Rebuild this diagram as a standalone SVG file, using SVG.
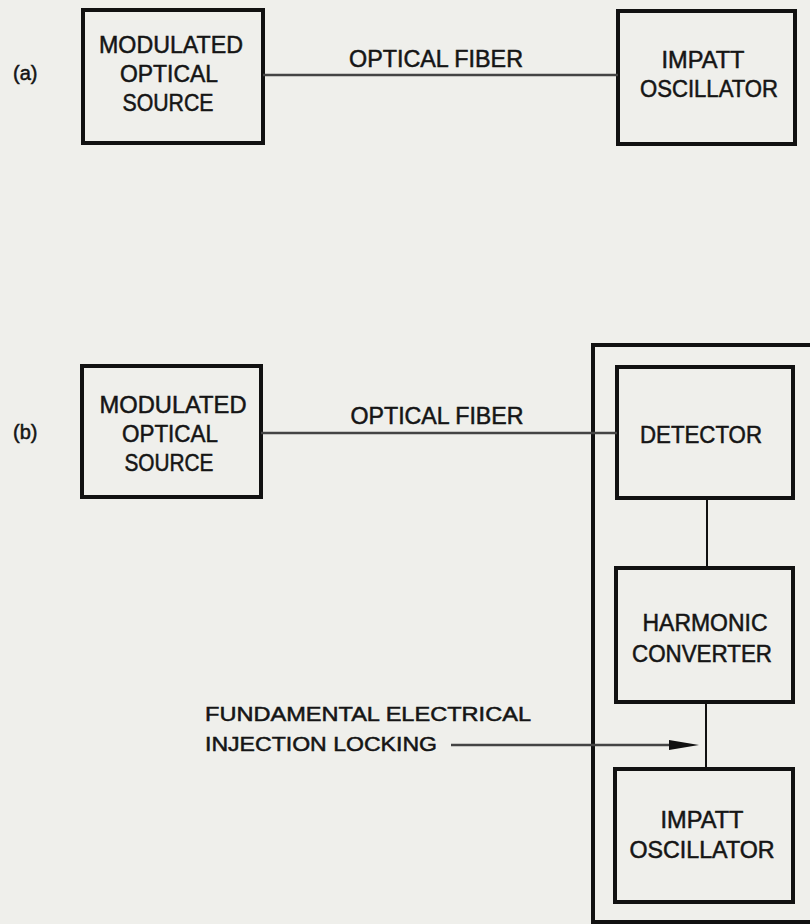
<svg xmlns="http://www.w3.org/2000/svg" width="810" height="924" viewBox="0 0 810 924">
<defs>
<style>
.bg{fill:#efefeb}
.box{fill:none;stroke:#111;stroke-width:4}
.t{font-family:"Liberation Sans",Arial,sans-serif;font-size:23px;fill:#151515;stroke:#151515;stroke-width:0.5;text-anchor:middle}
.lbl{font-family:"Liberation Sans",Arial,sans-serif;font-size:20px;fill:#151515;stroke:#151515;stroke-width:0.5}
.fib{fill:none;stroke:#444;stroke-width:2.5}
.wire{fill:none;stroke:#111;stroke-width:2}
</style>
</defs>
<rect class="bg" x="0" y="0" width="810" height="924"/>

<text class="lbl" x="13" y="80">(a)</text>
<text class="lbl" x="13" y="439">(b)</text>

<g id="a-source">
<rect class="box" x="83" y="10" width="180" height="133"/>
<text class="t" x="171" y="53" textLength="144" lengthAdjust="spacingAndGlyphs">MODULATED</text>
<text class="t" x="169" y="82" textLength="98" lengthAdjust="spacingAndGlyphs">OPTICAL</text>
<text class="t" x="168" y="111" textLength="91" lengthAdjust="spacingAndGlyphs">SOURCE</text>
</g>

<g id="a-impatt">
<rect class="box" x="618" y="11" width="177" height="133"/>
<text class="t" x="703" y="68" textLength="83" lengthAdjust="spacingAndGlyphs">IMPATT</text>
<text class="t" x="709" y="97" textLength="138" lengthAdjust="spacingAndGlyphs">OSCILLATOR</text>
</g>

<g id="b-source">
<rect class="box" x="82" y="366" width="179" height="131"/>
<text class="t" x="173" y="413" textLength="147" lengthAdjust="spacingAndGlyphs">MODULATED</text>
<text class="t" x="170" y="442" textLength="96" lengthAdjust="spacingAndGlyphs">OPTICAL</text>
<text class="t" x="169" y="471" textLength="89" lengthAdjust="spacingAndGlyphs">SOURCE</text>
</g>

<g id="b-enclosure">
<path class="box" d="M812,345 H593 V922 H812"/>
</g>

<g id="b-detector">
<rect class="box" x="617" y="367" width="176" height="131"/>
<text class="t" x="701" y="443" textLength="122" lengthAdjust="spacingAndGlyphs">DETECTOR</text>
</g>

<g id="b-harmonic">
<rect class="box" x="616" y="568" width="177" height="134"/>
<text class="t" x="705" y="631" textLength="125" lengthAdjust="spacingAndGlyphs">HARMONIC</text>
<text class="t" x="702" y="662" textLength="140" lengthAdjust="spacingAndGlyphs">CONVERTER</text>
</g>

<g id="b-impatt">
<rect class="box" x="615" y="769" width="178" height="133"/>
<text class="t" x="702" y="828" textLength="83" lengthAdjust="spacingAndGlyphs">IMPATT</text>
<text class="t" x="702" y="858" textLength="145" lengthAdjust="spacingAndGlyphs">OSCILLATOR</text>
</g>

<g id="injection-label">
<text class="lbl" x="205" y="721" textLength="326" lengthAdjust="spacingAndGlyphs">FUNDAMENTAL ELECTRICAL</text>
<text class="lbl" x="205" y="751" textLength="232" lengthAdjust="spacingAndGlyphs">INJECTION LOCKING</text>
</g>

<g id="connectors">
<line class="fib" x1="263" y1="75" x2="618" y2="75"/>
<text class="t" x="436" y="67" textLength="174" lengthAdjust="spacingAndGlyphs">OPTICAL FIBER</text>
<line class="fib" x1="261" y1="433" x2="617" y2="433"/>
<text class="t" x="437" y="424" textLength="173" lengthAdjust="spacingAndGlyphs">OPTICAL FIBER</text>
<line class="wire" x1="707" y1="498" x2="707" y2="568"/>
<line class="wire" x1="706" y1="702" x2="706" y2="769"/>
<line class="fib" x1="451" y1="745" x2="672" y2="745" stroke="#666"/>
<polygon points="699,745 669,740 669,750" fill="#111"/>
</g>
</svg>
